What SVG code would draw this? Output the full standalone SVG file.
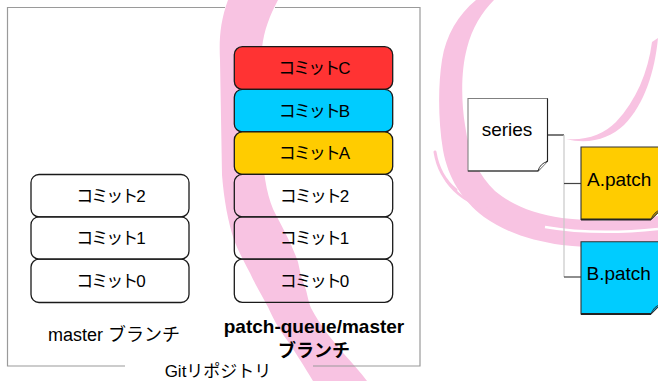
<svg xmlns="http://www.w3.org/2000/svg" width="658" height="381" viewBox="0 0 658 381">
  <style>
    text { font-family: "Liberation Sans", "Noto Sans CJK JP", sans-serif; fill: #000; }
    .swirl { fill: #f8c3e2; }
    .streak { fill: none; stroke: #f8c3e2; stroke-linecap: round; }
    .frame { fill: none; stroke: #9a9a9a; stroke-width: 1.2; }
    .commit rect { stroke: #1a1a1a; stroke-width: 1.3; }
    .commit text { font-size: 17px; letter-spacing: -2px; text-anchor: middle; }
    .plain rect { fill: none; }
    .red rect { fill: #ff3333; }
    .cyan rect { fill: #00ccff; }
    .amber rect { fill: #ffcc00; }
    .note text { font-size: 19px; }
    .label { font-size: 18px; text-anchor: middle; }
    .conn { fill: none; stroke-width: 1.2; }
  </style>

  <rect width="658" height="381" fill="#fff"/>

  <!-- background swirl -->
  <g id="swirl">
    <path class="swirl" d="M228,0 L278,0 C270,15 264,30 262,48 L262,150 C264,180 268,200 276,215 C284,230 292,245 298,262 L301,276 L306,290 C308,298 309,303 311,308 C320,325 332,340 344,354 C353,364 361,373 367,381 L313,381 C304,366 294,350 287,340 C278,328 272,316 268,307 C260,292 254,282 250,273 C242,258 238,250 234,240 C228,222 224,200 222,175 L220,60 C219,40 220,22 228,0 Z"/>
    <path class="swirl" d="M476,0 L494,0 C482,12 472,28 467,48 C461,70 461,100 465,125 C469,155 479,176 495,191 C513,206 536,214 562,218 C595,222 628,221 658,216 L658,243 C628,248 595,249 562,245 C532,241 505,232 484,217 C462,200 448,178 443,150 C438,120 438,85 442,60 C446,35 458,15 476,0 Z"/>
    <path d="M545,227 C580,233 620,233 658,229" fill="none" stroke="#fff" stroke-width="2.5"/>
    <path class="streak" stroke-width="3" d="M435,152 C438,170 446,182 456,190"/>
    <path class="streak" stroke-width="2.5" d="M446,180 C456,195 470,204 490,210"/>
    <path class="swirl" d="M658,38 C655,70 645,104 624,125 C610,138 590,145 566,139 C586,141 604,134 616,122 C636,101 648,72 652,42 Z"/>
  </g>

  <!-- repository frame, open at the bottom for its caption -->
  <path class="frame" d="M125,366 H7.5 V7.5 H225 M275,7.5 H420 V366 H313"/>
  <text id="repo-label" x="218" y="377" font-size="17" text-anchor="middle">Gitリポジトリ</text>

  <!-- master branch -->
  <g id="master-2" class="commit plain"><rect x="31" y="174.5" width="158" height="42.3" rx="8"/><text x="110" y="201.5">コミット2</text></g>
  <g id="master-1" class="commit plain"><rect x="31" y="216.8" width="158" height="42.3" rx="8"/><text x="110" y="244">コミット1</text></g>
  <g id="master-0" class="commit plain"><rect x="31" y="259.1" width="158" height="43.4" rx="8"/><text x="110" y="286.5">コミット0</text></g>
  <text id="master-label" class="label" x="114" y="341">master ブランチ</text>

  <!-- patch-queue/master branch -->
  <g id="pq-C" class="commit red"><rect x="234.3" y="46.7" width="158.4" height="42.6" rx="8"/><text x="313.5" y="74">コミットC</text></g>
  <g id="pq-B" class="commit cyan"><rect x="234.3" y="89.3" width="158.4" height="42.6" rx="8"/><text x="313.5" y="116.5">コミットB</text></g>
  <g id="pq-A" class="commit amber"><rect x="234.3" y="131.9" width="158.4" height="42.5" rx="8"/><text x="313.5" y="159">コミットA</text></g>
  <g id="pq-2" class="commit plain"><rect x="234.3" y="174.4" width="158.4" height="42.4" rx="8"/><text x="313.5" y="201.5">コミット2</text></g>
  <g id="pq-1" class="commit plain"><rect x="234.3" y="216.8" width="158.4" height="42.3" rx="8"/><text x="313.5" y="244">コミット1</text></g>
  <g id="pq-0" class="commit plain"><rect x="234.3" y="259.1" width="158.4" height="43.2" rx="8"/><text x="313.5" y="286.5">コミット0</text></g>
  <text id="pq-label" text-anchor="middle" font-weight="bold"><tspan x="314" y="333" font-size="19">patch-queue/master</tspan><tspan x="314" y="357" font-size="18">ブランチ</tspan></text>

  <!-- series file tree -->
  <g id="connectors">
    <path class="conn" stroke="#222" d="M548,135 H564"/>
    <path class="conn" stroke="#c8c8c8" stroke-width="1.6" d="M564,135 V277"/>
    <path class="conn" stroke="#444" d="M564,183.5 H581"/>
    <path class="conn" stroke="#444" d="M564,277 H581"/>
  </g>

  <g id="series" class="note">
    <path d="M468,98.5 H547.5 V161 L538,171 H468 Z" fill="#fff" stroke="#808080" stroke-width="1.1"/>
    <path d="M547.5,98.5 V161 L538,171 H468" fill="none" stroke="#222" stroke-width="1.1"/>
    <path d="M538,171 Q540,163.5 547.5,161.5" fill="#fff" stroke="#222" stroke-width="0.9"/>
    <text x="507" y="136" text-anchor="middle">series</text>
  </g>

  <g id="a-patch" class="note">
    <path d="M581,147 H661 V209.5 L651,219.5 H581 Z" fill="#ffcc00" stroke="#333" stroke-width="1.1"/>
    <path d="M581,219.5 H651" stroke="#222" stroke-width="2"/>
    <path d="M651,219.5 Q653.5,212 661,209.5 Z" fill="#c99c00" stroke="#333" stroke-width="0.9"/>
    <text x="587" y="186">A.patch</text>
  </g>

  <g id="b-patch" class="note">
    <path d="M581,241.7 H661 V304 L651,314 H581 Z" fill="#00ccff" stroke="#333" stroke-width="1.1"/>
    <path d="M581,314 H651" stroke="#222" stroke-width="2"/>
    <path d="M651,314 Q653.5,306.5 661,304 Z" fill="#0099cc" stroke="#333" stroke-width="0.9"/>
    <text x="586.5" y="280">B.patch</text>
  </g>
</svg>
